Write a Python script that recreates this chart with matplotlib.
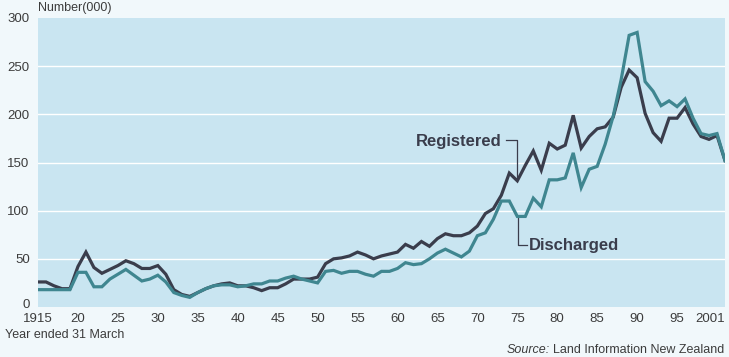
import matplotlib
matplotlib.use("Agg")
import matplotlib.pyplot as plt
import matplotlib.transforms as mtransforms
import numpy as np

plt.rcParams["font.family"] = ["Liberation Sans", "DejaVu Sans"]

# Mortgages registered / discharged, thousands, year ended 31 March
years = np.arange(1915, 2002)

registered = [
    26, 26, 22, 19, 19, 42, 57, 41, 35, 39,
    43, 48, 45, 40, 40, 43, 34, 18, 13, 11,
    15, 19, 22, 24, 25, 22, 22, 20, 17, 20,
    20, 24, 29, 29, 29, 31, 45, 50, 51, 53,
    57, 54, 50, 53, 55, 57, 65, 61, 68, 63,
    71, 76, 74, 74, 77, 84, 97, 102, 116, 139,
    131, 147, 162, 142, 170, 164, 168, 199, 165, 177,
    185, 187, 197, 228, 246, 238, 201, 181, 172, 196,
    196, 207, 190, 177, 174, 178, 152,
]

discharged = [
    18, 18, 18, 18, 18, 36, 36, 21, 21, 29,
    34, 39, 33, 27, 29, 33, 26, 15, 12, 10,
    15, 19, 22, 23, 23, 21, 22, 24, 24, 27,
    27, 30, 32, 29, 27, 25, 37, 38, 35, 37,
    37, 34, 32, 37, 37, 40, 46, 44, 45, 50,
    56, 60, 56, 52, 58, 74, 77, 91, 110, 110,
    94, 94, 113, 104, 132, 132, 134, 160, 124, 143,
    146, 169, 198, 236, 282, 285, 234, 224, 209, 214,
    208, 216, 196, 180, 178, 180, 152,
]

xtick_pos = [1915, 1920, 1925, 1930, 1935, 1940, 1945, 1950, 1955, 1960,
             1965, 1970, 1975, 1980, 1985, 1990, 1995, 2001]
xtick_labels = ["1915", "20", "25", "30", "35", "40", "45", "50", "55", "60",
                "65", "70", "75", "80", "85", "90", "95", "2001"]
yticks = [0, 50, 100, 150, 200, 250, 300]

REG_COLOR = "#3a3d4c"
DIS_COLOR = "#3f8690"
TEXT_COLOR = "#3c3c3c"


def main() -> None:
    fig = plt.figure(figsize=(7.29, 3.57), dpi=100, facecolor="#f1f8fb")
    ax = fig.add_axes([38 / 729, 50 / 357, 687 / 729, 289 / 357])
    ax.set_facecolor("#c9e5f1")

    for y in yticks[1:-1]:
        ax.axhline(y, color="white", linewidth=1.0, zorder=1)

    ax.plot(years, registered, color=REG_COLOR, linewidth=2.3, zorder=3,
            solid_joinstyle="miter")
    ax.plot(years, discharged, color=DIS_COLOR, linewidth=2.3, zorder=4,
            solid_joinstyle="miter")

    ax.set_xlim(1915, 2001)
    ax.set_ylim(0, 300)

    for side in ax.spines.values():
        side.set_visible(False)

    ax.set_xticks(xtick_pos)
    ax.set_xticklabels(xtick_labels)
    ax.set_yticks(yticks)
    ax.tick_params(axis="both", length=0, labelsize=9.5, colors=TEXT_COLOR)
    ax.tick_params(axis="x", pad=4)
    ax.tick_params(axis="y", pad=6)
    ax.get_xticklabels()[-1].set_horizontalalignment("right")
    # lift the "0" a little so it clears "1915"
    zero = ax.get_yticklabels()[0]
    zero.set_transform(zero.get_transform() +
                       mtransforms.ScaledTranslation(0, 3 / 100, fig.dpi_scale_trans))

    # series labels with leader lines
    ax.text(1973.1, 172, "Registered", ha="right", va="center",
            fontsize=12, fontweight="bold", color=REG_COLOR)
    ax.plot([1973.6, 1974.95, 1974.95], [173, 173, 134],
            color=REG_COLOR, linewidth=0.9, zorder=2)
    ax.text(1976.5, 64, "Discharged", ha="left", va="center",
            fontsize=12, fontweight="bold", color=REG_COLOR)
    ax.plot([1975.05, 1975.05, 1976.2], [92, 64, 64],
            color=REG_COLOR, linewidth=0.9, zorder=2)

    fig.text(38 / 729, 1 - 8 / 357, "Number(000)", ha="left", va="center",
             fontsize=9, color=TEXT_COLOR)
    fig.text(5 / 729, 1 - 335 / 357, "Year ended 31 March", ha="left",
             va="center", fontsize=9, color=TEXT_COLOR)
    src = fig.text(724 / 729, 1 - 350 / 357, "Land Information New Zealand",
                   ha="right", va="center", fontsize=9, color=TEXT_COLOR)
    fig.canvas.draw()
    left_px = src.get_window_extent().x0
    fig.text((left_px - 3) / fig.bbox.width, 1 - 350 / 357, "Source:",
             ha="right", va="center", fontsize=9, style="italic", color=TEXT_COLOR)

    fig.savefig("out.png", dpi=100, facecolor=fig.get_facecolor())


if __name__ == "__main__":
    main()
